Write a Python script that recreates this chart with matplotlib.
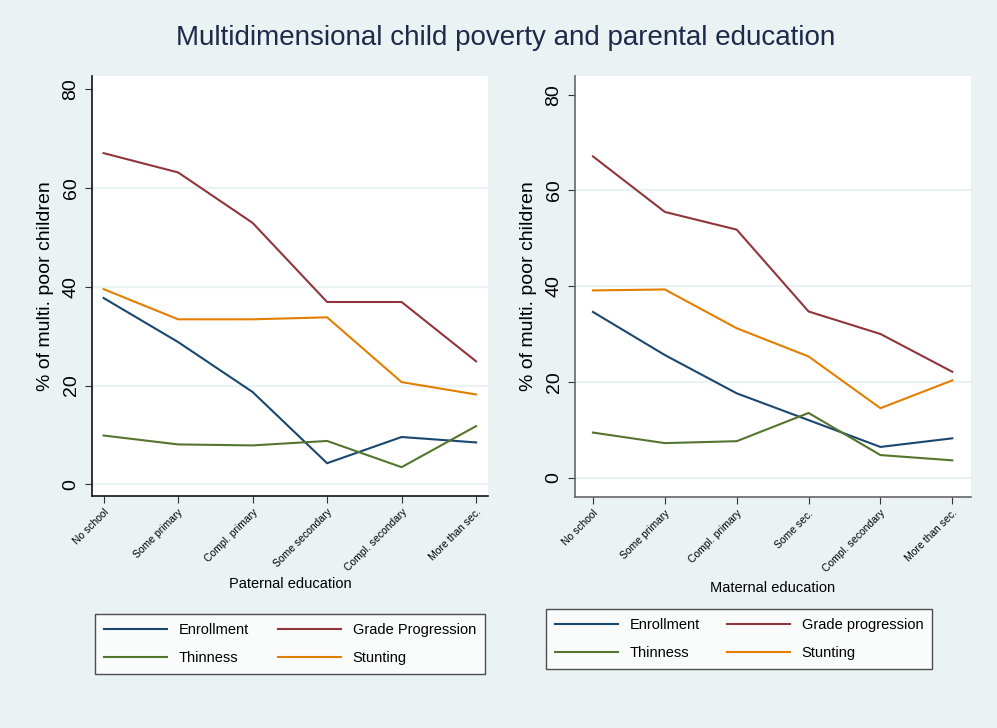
import matplotlib
matplotlib.use("Agg")
import matplotlib.pyplot as plt

plt.rcParams['font.family'] = ['Liberation Sans', 'DejaVu Sans']

# ---- data ----
pat_categories = ["No school", "Some primary", "Compl. primary", "Some secondary",
                  "Compl. secondary", "More than sec."]
mat_categories = ["No school", "Some primary", "Compl. primary", "Some sec.",
                  "Compl. secondary", "More than sec."]

pat_enrollment = [37.7, 28.8, 18.7, 4.3, 9.6, 8.5]
pat_grade = [67.0, 63.1, 52.9, 36.9, 36.9, 24.9]
pat_thinness = [9.9, 8.1, 7.9, 8.8, 3.5, 11.8]
pat_stunting = [39.5, 33.4, 33.4, 33.8, 20.7, 18.2]

mat_enrollment = [34.6, 25.6, 17.6, 12.0, 6.4, 8.2]
mat_grade = [67.1, 55.5, 51.8, 34.7, 30.0, 22.1]
mat_thinness = [9.4, 7.2, 7.6, 13.5, 4.7, 3.6]
mat_stunting = [39.1, 39.3, 31.2, 25.3, 14.5, 20.3]

y_ticks = [0, 20, 40, 60, 80]
grid_vals = [0, 20, 40, 60]

title = "Multidimensional child poverty and parental education"
ylabel = "% of multi. poor children"

# ---- style ----
BG = "#eaf2f3"
C_ENR = "#1a476f"
C_GRD = "#90353b"
C_THN = "#55752f"
C_STU = "#e37e00"

W, H = 997, 728
fig = plt.figure(figsize=(W / 100, H / 100), dpi=100, facecolor=BG)


def panel(rect_px, xlim, ylim, cats, enr, grd, thn, stu, xlabel, grade_label,
          leg_px, colspace, xlabelpad, spine_color):
    l, r, t, b = rect_px
    ax = fig.add_axes([l / W, 1 - b / H, (r - l) / W, (b - t) / H])
    ax.set_facecolor("white")
    for v in grid_vals:
        ax.axhline(v, color=BG, lw=1.6, zorder=0)
    x = list(range(len(cats)))
    h1, = ax.plot(x, enr, color=C_ENR, lw=1.5)
    h2, = ax.plot(x, grd, color=C_GRD, lw=1.5)
    h3, = ax.plot(x, thn, color=C_THN, lw=1.5)
    h4, = ax.plot(x, stu, color=C_STU, lw=1.5)
    ax.set_xlim(*xlim)
    ax.set_ylim(*ylim)
    ax.set_yticks(y_ticks)
    ax.set_yticklabels([str(v) for v in y_ticks], rotation=90, va="center",
                       fontsize=14)
    ax.set_xticks(x)
    ax.set_xticklabels(cats, rotation=45, ha="right", rotation_mode="anchor",
                       fontsize=7.5)
    ax.tick_params(axis="y", length=5, pad=4, color="#333333")
    ax.tick_params(axis="x", length=5, pad=3, color="#333333")
    for s in ["top", "right"]:
        ax.spines[s].set_visible(False)
    for s in ["left", "bottom"]:
        ax.spines[s].set_color(spine_color)
        ax.spines[s].set_linewidth(1.2)
    ax.set_ylabel(ylabel, fontsize=14, labelpad=6)
    ax.set_xlabel(xlabel, fontsize=10.5, labelpad=xlabelpad)
    lx0, ly0 = leg_px
    leg = ax.legend([h1, h3, h2, h4],
                    ["Enrollment", "Thinness", grade_label, "Stunting"],
                    ncol=2, loc="upper left",
                    bbox_to_anchor=(lx0 / W, 1 - ly0 / H),
                    bbox_transform=fig.transFigure,
                    fontsize=10.5, frameon=True, fancybox=False,
                    edgecolor="#222222", handlelength=4.32, handletextpad=0.82,
                    labelspacing=1.0, borderaxespad=0.0, borderpad=0.6,
                    columnspacing=colspace)
    leg.get_frame().set_linewidth(1.0)
    leg.get_frame().set_facecolor("white")
    return ax


panel((92, 488, 76, 496), (-0.156, 5.16), (-2.33, 82.6), pat_categories,
      pat_enrollment, pat_grade, pat_thinness, pat_stunting,
      "Paternal education", "Grade Progression", (95, 614), 1.98, 3, "#111111")
panel((575, 971, 76, 497), (-0.25, 5.26), (-4.06, 83.9), mat_categories,
      mat_enrollment, mat_grade, mat_thinness, mat_stunting,
      "Maternal education", "Grade progression", (546, 609), 1.83, 5, "#666666")

fig.text(506 / W, 1 - 38 / H, title, ha="center", va="center", fontsize=20,
         color="#1e2a4a")

fig.savefig("out.png", dpi=100, facecolor=BG)
